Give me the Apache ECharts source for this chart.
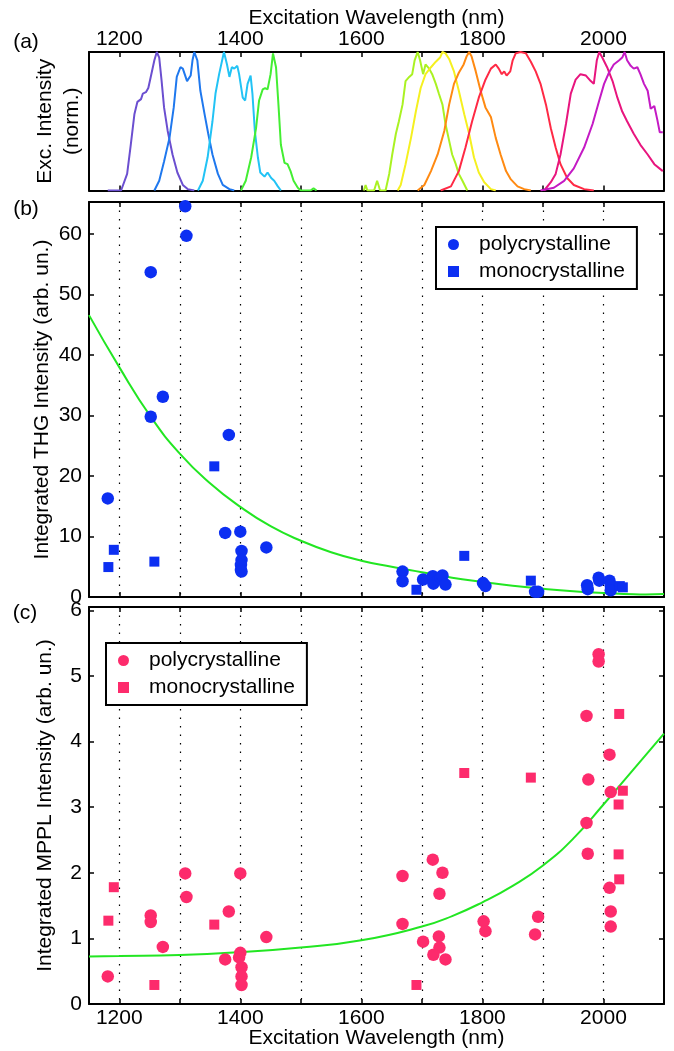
<!DOCTYPE html>
<html>
<head>
<meta charset="utf-8">
<script src="https://cdn.jsdelivr.net/npm/echarts@6.0.0/dist/echarts.min.js"></script>
<style>
  html, body { margin: 0; padding: 0; background: #fff; }
  #chart { width: 674px; height: 1051px; }
</style>
</head>
<body>
<div id="chart"></div>
<script>
// x axis ticks / labels (nm)
const xTicks = [1200, 1300, 1400, 1500, 1600, 1700, 1800, 1900, 2000];
const xLabels = [1200, 1400, 1600, 1800, 2000];

// (a) excitation spectra, [wavelength, norm. intensity]
const spec1 = [[1181,0],[1203,0],[1213,0.12],[1219,0.33],[1225,0.55],[1230,0.64],[1236,0.66],[1239,0.70],[1244,0.71],[1248,0.74],[1252,0.82],[1258,0.94],[1262,1.0],[1266,0.96],[1270,0.79],[1274,0.60],[1280,0.43],[1288,0.26],[1296,0.13],[1305,0.04],[1313,0.01],[1324,0]];
const spec2 = [[1258,0],[1266,0.07],[1274,0.21],[1283,0.38],[1290,0.60],[1295,0.82],[1301,0.89],[1305,0.88],[1312,0.79],[1318,0.83],[1321,0.94],[1324,1.0],[1329,0.94],[1334,0.72],[1341,0.55],[1347,0.41],[1354,0.26],[1363,0.12],[1371,0.04],[1382,0.01],[1390,0]];
const spec3 = [[1330,0],[1338,0.07],[1346,0.24],[1354,0.50],[1359,0.70],[1365,0.84],[1371,0.96],[1373,1.0],[1378,0.91],[1382,0.82],[1386,0.89],[1390,0.88],[1395,0.90],[1398,0.84],[1404,0.67],[1408,0.65],[1412,0.77],[1417,0.83],[1420,0.70],[1424,0.43],[1429,0.24],[1433,0.13],[1440,0.10],[1445,0.13],[1451,0.09],[1456,0.07],[1462,0.03],[1467,0]];
const spec4 = [[1401,0],[1409,0.07],[1418,0.24],[1426,0.45],[1431,0.65],[1437,0.73],[1441,0.74],[1445,0.73],[1450,0.84],[1454,0.99],[1456,1.0],[1459,0.89],[1463,0.62],[1467,0.33],[1473,0.20],[1478,0.19],[1483,0.14],[1488,0.07],[1495,0.02],[1500,0],[1516,0],[1521,0.015],[1526,0]];
const spec5 = [[1604,0],[1607,0.04],[1610,0],[1621,0],[1626,0.07],[1631,0],[1640,0],[1646,0.12],[1651,0.26],[1657,0.41],[1662,0.50],[1668,0.62],[1673,0.79],[1679,0.82],[1684,0.84],[1688,0.94],[1693,1.0],[1697,0.94],[1702,0.84],[1706,0.91],[1712,0.88],[1717,0.84],[1723,0.77],[1728,0.70],[1734,0.62],[1739,0.48],[1745,0.36],[1750,0.26],[1756,0.19],[1761,0.12],[1767,0.07],[1775,0]];
const spec6 = [[1660,0],[1665,0.04],[1673,0.19],[1682,0.38],[1690,0.57],[1698,0.74],[1706,0.84],[1715,0.89],[1723,0.93],[1730,0.96],[1734,1.0],[1739,0.99],[1745,0.95],[1753,0.86],[1761,0.72],[1770,0.55],[1778,0.41],[1786,0.24],[1794,0.13],[1803,0.06],[1814,0.01],[1822,0]];
const spec7 = [[1693,0],[1704,0.04],[1715,0.14],[1726,0.26],[1737,0.43],[1745,0.62],[1753,0.77],[1761,0.85],[1769,0.91],[1774,0.97],[1778,1.0],[1782,0.97],[1789,0.86],[1797,0.72],[1805,0.60],[1814,0.53],[1822,0.38],[1830,0.26],[1839,0.14],[1847,0.08],[1858,0.03],[1869,0.01],[1880,0]];
const spec8 = [[1731,0],[1748,0.03],[1761,0.14],[1772,0.31],[1783,0.50],[1794,0.67],[1805,0.80],[1814,0.88],[1822,0.91],[1827,0.88],[1832,0.84],[1836,0.86],[1840,0.83],[1846,0.86],[1850,0.94],[1855,0.99],[1863,1.0],[1872,0.99],[1880,0.93],[1888,0.86],[1896,0.77],[1905,0.62],[1913,0.45],[1921,0.31],[1929,0.19],[1940,0.09],[1951,0.04],[1968,0.01],[1984,0]];
const spec9 = [[1902,0],[1913,0.06],[1921,0.12],[1929,0.26],[1938,0.48],[1946,0.70],[1954,0.80],[1962,0.84],[1971,0.83],[1979,0.79],[1984,0.77],[1989,0.94],[1993,1.0],[1998,0.96],[2006,0.89],[2015,0.79],[2023,0.67],[2031,0.57],[2039,0.50],[2050,0.41],[2061,0.33],[2073,0.26],[2084,0.19],[2098,0.14]];
const spec10 = [[1896,0],[1918,0.02],[1935,0.07],[1951,0.16],[1968,0.31],[1982,0.48],[1993,0.65],[2001,0.77],[2009,0.85],[2017,0.91],[2026,0.94],[2031,0.96],[2035,1.0],[2039,0.94],[2045,0.90],[2050,0.88],[2056,0.89],[2061,0.84],[2067,0.77],[2073,0.72],[2078,0.59],[2084,0.61],[2089,0.51],[2093,0.42],[2098,0.42]];
const specColors = ['#6b4fd0', '#1f78ee', '#22c3f5', '#44ee33', '#aaf222', '#f5f020', '#ff8a12', '#ff2a45', '#e8157e', '#c41ac4'];

// (b) THG
const thgPoly = [[1309,64.6],[1311,59.7],[1252,53.7],[1272,33.1],[1252,29.8],[1181,16.3],[1381,26.8],[1375,10.6],[1400,10.8],[1402,7.6],[1402,6.1],[1401,5.3],[1401,4.45],[1402,4.2],[1443,8.2],
  [1668,4.2],[1668,2.6],[1702,2.9],[1718,3.45],[1719,2.2],[1727,2.9],[1731,3.2],[1734,3.55],[1739,2.05],[1801,2.3],[1805,1.8],[1887,0.85],[1892,0.85],[1973,1.95],[1974,1.3],[1992,3.2],[1993,2.7],[2010,2.7],[2012,1.9],[2012,1.1]];
const thgMono = [[1191,7.8],[1182,4.95],[1258,5.85],[1357,21.6],[1691,1.2],[1770,6.8],[1880,2.7],[2027,1.8],[2032,1.6]];
const thgFit = [[1150,46.6],[1200,38.0],[1252,29.8],[1300,23.7],[1350,18.8],[1400,14.9],[1450,11.7],[1500,9.3],[1550,7.4],[1600,6.0],[1650,5.0],[1700,4.1],[1750,3.2],[1800,2.5],[1850,1.85],[1900,1.35],[1950,0.95],[2000,0.68],[2050,0.45],[2070,0.42],[2100,0.5]];

// (c) MPPL
const mpplPoly = [[1181,0.42],[1252,1.35],[1252,1.25],[1272,0.87],[1309,1.99],[1311,1.63],[1381,1.41],[1375,0.68],[1400,1.99],[1400,0.78],[1398,0.71],[1402,0.56],[1402,0.42],[1402,0.29],[1443,1.02],
  [1668,1.95],[1668,1.22],[1702,0.95],[1718,2.2],[1734,2.0],[1729,1.68],[1728,1.03],[1729,0.86],[1719,0.75],[1739,0.68],[1802,1.26],[1805,1.11],[1887,1.06],[1892,1.33],[1972,4.39],[1975,3.42],[1972,2.76],[1974,2.29],[1992,5.33],[1992,5.22],[2010,3.8],[2012,3.23],[2010,1.77],[2012,1.41],[2012,1.18]];
const mpplMono = [[1191,1.78],[1182,1.27],[1258,0.29],[1357,1.21],[1691,0.29],[1770,3.52],[1880,3.45],[2026,4.42],[2032,3.25],[2025,3.04],[2025,2.28],[2026,1.9]];
const mpplFit = [[1150,0.725],[1200,0.73],[1300,0.745],[1400,0.79],[1500,0.86],[1600,0.97],[1700,1.18],[1750,1.34],[1800,1.55],[1850,1.80],[1900,2.11],[1950,2.52],[2000,3.04],[2050,3.58],[2100,4.12]];

const FONT = 'Liberation Sans';
const FS = 21;
const blue = '#0c2ff2';
const pink = '#fd2b6c';
const green = '#22e622';

const gridL = 89, gridW = 575;

function xAxisOf(grid, position, showLabels, name, gap) {
  return {
    type: 'value', gridIndex: grid, position: position,
    min: 1150, max: 2100,
    name: name || '', nameLocation: 'middle', nameGap: gap || 0, nameMoveOverlap: false,
    nameTextStyle: { fontFamily: FONT, fontSize: FS, color: '#000' },
    axisLine: { onZero: false, lineStyle: { color: '#000', width: 2 } },
    axisTick: { inside: true, length: 5, customValues: xTicks, lineStyle: { color: '#000', width: 1.5 } },
    axisLabel: {
      show: showLabels, customValues: xLabels, margin: position == 'top' ? 2 : 4,
      fontFamily: FONT, fontSize: FS, color: '#000', formatter: v => String(v),
    },
    splitLine: { show: false },
  };
}

function yAxisOf(grid, position, max, interval, showLabels, name, gap) {
  return {
    type: 'value', gridIndex: grid, position: position,
    min: 0, max: max, interval: interval,
    name: name || '', nameLocation: 'middle', nameGap: gap || 0, nameMoveOverlap: false,
    nameTextStyle: { fontFamily: FONT, fontSize: FS, color: '#000', lineHeight: 27 },
    axisLine: { onZero: false, lineStyle: { color: '#000', width: 2 } },
    axisTick: { show: interval > 0, inside: true, length: 5, lineStyle: { color: '#000', width: 1.5 } },
    axisLabel: {
      show: showLabels, margin: 7, fontFamily: FONT, fontSize: FS, color: '#000',
      formatter: v => (Math.abs(v / interval - Math.round(v / interval)) < 1e-6 ? String(v) : ''),
    },
    splitLine: { show: false },
  };
}

// dotted vertical grid for (b) and (c)
function dottedX(grid) {
  const ax = xAxisOf(grid, 'bottom', false);
  ax.axisTick.show = false;
  ax.axisLine.show = false;
  ax.splitLine = { show: true, lineStyle: { color: '#000', width: 1.2, type: [1.5, 7] } };
  return ax;
}

const specSeries = [spec1, spec2, spec3, spec4, spec5, spec6, spec7, spec8, spec9, spec10].map((d, i) => ({
  type: 'line', xAxisIndex: 0, yAxisIndex: 0, data: d, showSymbol: false, silent: true,
  lineStyle: { color: specColors[i], width: 2 }, itemStyle: { color: specColors[i] },
}));

function scatterOf(name, data, xi, color, symbol, size) {
  return {
    name: name, type: 'scatter', xAxisIndex: xi, yAxisIndex: xi, data: data,
    symbol: symbol, symbolSize: size, itemStyle: { color: color, opacity: 1 }, z: 3,
  };
}

function fitOf(data, xi) {
  return {
    type: 'line', xAxisIndex: xi, yAxisIndex: xi, data: data, smooth: 0.5,
    showSymbol: false, lineStyle: { color: green, width: 2 }, z: 2, silent: true,
  };
}

const legendNames = { polyB: 'polycrystalline', monoB: 'monocrystalline', polyC: 'polycrystalline', monoC: 'monocrystalline' };

function legendOf(left, top, a, b) {
  return {
    orient: 'vertical', left: left, top: top,
    data: [{ name: a, icon: 'circle' }, { name: b, icon: 'rect' }],
    itemWidth: 11, itemHeight: 11, itemGap: 6,
    padding: [7, 12, 7, 12],
    backgroundColor: '#fff', borderColor: '#000', borderWidth: 2, borderRadius: 0,
    selectedMode: false,
    formatter: n => legendNames[n],
    textStyle: { fontFamily: FONT, fontSize: FS, color: '#000', padding: [0, 0, 0, 15] },
  };
}

const option = {
  animation: false,
  backgroundColor: '#fff',
  textStyle: { fontFamily: FONT },
  grid: [
    { left: gridL, top: 52, width: gridW, height: 138.5 },
    { left: gridL, top: 202, width: gridW, height: 395 },
    { left: gridL, top: 607, width: gridW, height: 397 },
  ],
  xAxis: [
    xAxisOf(0, 'bottom', false),
    xAxisOf(0, 'top', true, 'Excitation Wavelength (nm)', 23),
    xAxisOf(1, 'bottom', false),
    xAxisOf(1, 'top', false),
    xAxisOf(2, 'bottom', true, 'Excitation Wavelength (nm)', 24),
    xAxisOf(2, 'top', false),
    dottedX(1),
    dottedX(2),
  ],
  yAxis: [
    yAxisOf(0, 'left', 1, 0, false, 'Exc. Intensity\n(norm.)', 3),
    yAxisOf(0, 'right', 1, 0, false),
    yAxisOf(1, 'left', 65.3, 10, true, 'Integrated THG Intensity (arb. un.)', 33),
    yAxisOf(1, 'right', 65.3, 10, false),
    yAxisOf(2, 'left', 6.05, 1, true, 'Integrated MPPL Intensity (arb. un.)', 30.5),
    yAxisOf(2, 'right', 6.05, 1, false),
  ],
  legend: [
    legendOf(436, 227, 'polyB', 'monoB'),
    legendOf(106, 643, 'polyC', 'monoC'),
  ],
  graphic: [
    { type: 'text', x: 26, y: 42, style: { text: '(a)', fontFamily: FONT, fontSize: FS, fill: '#000', align: 'center', verticalAlign: 'middle' } },
    { type: 'text', x: 26, y: 209, style: { text: '(b)', fontFamily: FONT, fontSize: FS, fill: '#000', align: 'center', verticalAlign: 'middle' } },
    { type: 'text', x: 25, y: 613, style: { text: '(c)', fontFamily: FONT, fontSize: FS, fill: '#000', align: 'center', verticalAlign: 'middle' } },
  ],
  series: [
    ...specSeries,
    fitOf(thgFit, 2),
    scatterOf('polyB', thgPoly, 2, blue, 'circle', 12.5),
    scatterOf('monoB', thgMono, 2, blue, 'rect', 10),
    fitOf(mpplFit, 4),
    scatterOf('polyC', mpplPoly, 4, pink, 'circle', 12.5),
    scatterOf('monoC', mpplMono, 4, pink, 'rect', 10),
  ],
};

const myChart = echarts.init(document.getElementById('chart'), null, { renderer: 'canvas' });
myChart.setOption(option);
</script>
</body>
</html>
